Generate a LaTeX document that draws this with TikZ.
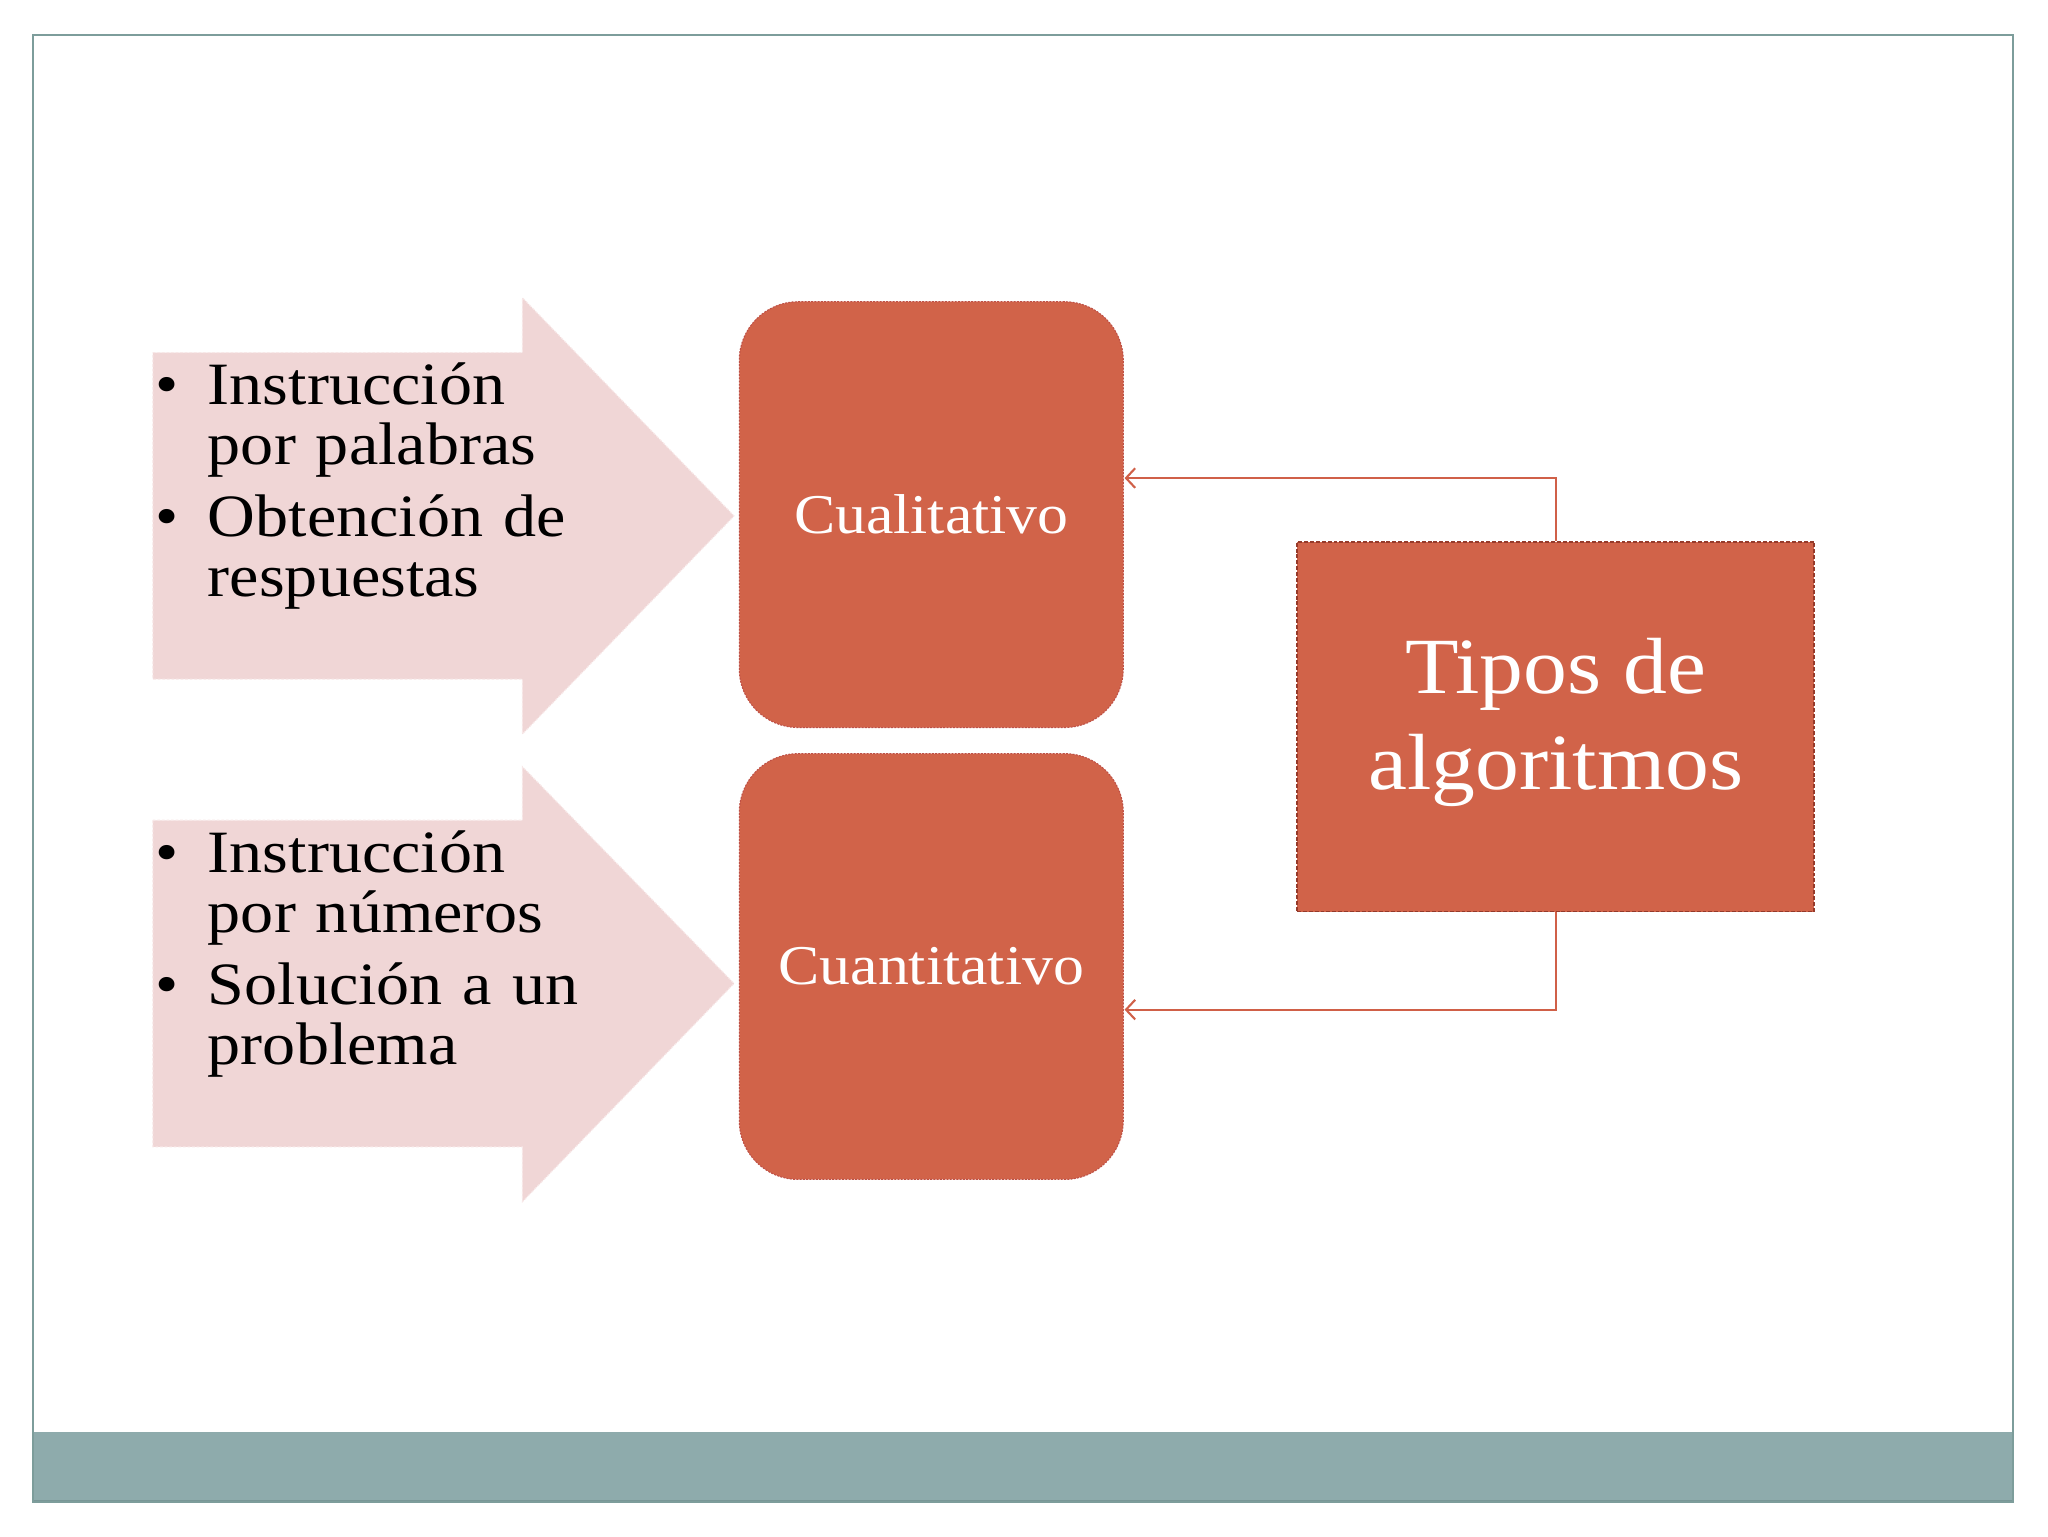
\documentclass[tikz,border=0pt]{standalone}
\usepackage{fontspec}
\setmainfont{Liberation Serif}[FakeStretch=1.1]
\usetikzlibrary{arrows.meta}
\definecolor{boxfill}{RGB}{209,99,73}
\definecolor{boxedge}{RGB}{190,80,70}
\definecolor{tiposedge}{RGB}{150,58,42}
\definecolor{pinkfill}{RGB}{240,214,214}
\definecolor{pinkedge}{RGB}{248,232,232}
\definecolor{framec}{RGB}{125,157,155}
\definecolor{bandc}{RGB}{142,171,172}
\definecolor{banddark}{RGB}{120,150,150}
\definecolor{connc}{RGB}{208,96,72}
\newcommand\myitemfont{\fontsize{46}{46}\selectfont\spaceskip=8.5pt plus 2pt minus 1pt\relax}
\tikzset{
  rbox/.style={fill=boxfill, draw=boxedge, dash pattern=on 1.5pt off 1pt, line width=0.8pt,
    rounded corners=45pt, minimum width=294pt, minimum height=326pt, text=white,
    font=\fontsize{43}{43}\selectfont, inner sep=0pt},
  tbox/.style={fill=boxfill, draw=tiposedge, dash pattern=on 3pt off 1.5pt, line width=1.2pt,
    minimum width=396pt, minimum height=283pt, inner sep=0pt},
  arrowshape/.style={fill=pinkfill, draw=pinkedge, dash pattern=on 2pt off 1.5pt, line width=0.8pt},
  itemtext/.style={anchor=base west, text width=320pt, align=left, inner sep=0pt,
    font=\myitemfont},
  bullet/.style={anchor=base, inner sep=0pt, font=\fontsize{46}{46}\selectfont},
  conn/.style={draw=connc, line width=1.6pt, -{Straight Barb[length=7pt,width=15pt]}}
}
\begin{document}
\begin{tikzpicture}[x=1pt,y=-1pt]
\useasboundingbox (0,0) rectangle (1568,1176);
\fill[white] (0,0) rectangle (1568,1176);
% frame and band
\fill[bandc] (25,1096) rectangle (1541,1150);
\draw[banddark, line width=1.5pt] (25,1149) -- (1541,1149);
\draw[framec, line width=1.5pt] (25,27) rectangle (1541,1150);
% big arrows
\path[arrowshape] (117,270) -- (400,270) -- (400,228) -- (562,395) -- (400,562) -- (400,520) -- (117,520) -- cycle;
\path[arrowshape] (117,628) -- (400,628) -- (400,587) -- (562,753) -- (400,920) -- (400,878) -- (117,878) -- cycle;
% arrow texts
\node[bullet] (b1) at (128,310) {•};
\node[itemtext] (t1) at (159,310) {Instrucción\\por palabras};
\node[bullet] (b2) at (128,411) {•};
\node[itemtext] (t2) at (159,411) {Obtención de\\respuestas};
\node[bullet] (b3) at (128,668) {•};
\node[itemtext] (t3) at (159,668) {Instrucción\\por números};
\node[bullet] (b4) at (128,769) {•};
\node[itemtext] (t4) at (159,769) {Solución a un\\problema};
% boxes
\node[rbox] (cual) at (713,394) {Cualitativo};
\node[rbox] (cuan) at (713,740) {Cuantitativo};
\node[tbox] (tipos) at (1191,556.5) {};
\node[text=white, align=center, inner sep=0pt, font=\fontsize{61}{73}\selectfont] (tiposlbl) at (1191,553) {Tipos de\\algoritmos};
% connectors
\coordinate (c1) at (861,366);
\coordinate (c2) at (861,773);
\draw[conn] (tipos.north) |- (c1);
\draw[conn] (tipos.south) |- (c2);
\end{tikzpicture}
\end{document}
